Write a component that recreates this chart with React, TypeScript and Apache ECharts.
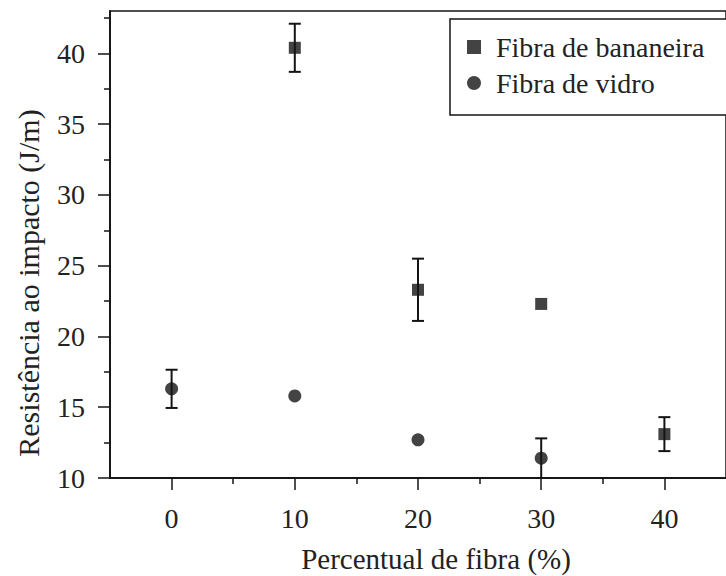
import React, { useEffect, useRef } from "react";
import * as echarts from "echarts";

const seriesNames = ["Fibra de bananeira", "Fibra de vidro"];

const xMajorTicks = [0, 10, 20, 30, 40];
const xMinorTicks = [5, 15, 25, 35];
const yMajorTicks = [10, 15, 20, 25, 30, 35, 40];
const yMinorTicks = [12.5, 17.5, 22.5, 27.5, 32.5, 37.5, 42.5];

const bananaX = [10, 20, 30, 40];
const bananaY = [40.4, 23.3, 22.3, 13.1];
const bananaErr = [1.7, 2.2, 0, 1.2];

const vidroX = [0, 10, 20, 30];
const vidroY = [16.3, 15.8, 12.7, 11.4];
const vidroErr = [1.35, 0, 0, 1.4];

const xTitle = "Percentual de fibra (%)";
const yTitle = "Resistência ao impacto (J/m)";

const FONT = "'Liberation Serif', 'DejaVu Serif', serif";
const INK = "#141414";

function errorSeries(xs: number[], ys: number[], es: number[]) {
  return {
    type: "custom",
    silent: true,
    z: 3,
    encode: { x: 0, y: 1 },
    data: xs.map((x, i) => [x, ys[i], es[i]]),
    renderItem: (_params: any, api: any) => {
      const x = api.value(0);
      const y = api.value(1);
      const e = api.value(2);
      if (!e) return { type: "group", children: [] };
      const top = api.coord([x, y + e]);
      const bot = api.coord([x, y - e]);
      const cap = 6;
      const style = { stroke: INK, lineWidth: 2 };
      return {
        type: "group",
        children: [
          { type: "line", shape: { x1: top[0], y1: top[1], x2: bot[0], y2: bot[1] }, style },
          { type: "line", shape: { x1: top[0] - cap, y1: top[1], x2: top[0] + cap, y2: top[1] }, style },
          { type: "line", shape: { x1: bot[0] - cap, y1: bot[1], x2: bot[0] + cap, y2: bot[1] }, style },
        ],
      };
    },
  };
}

export default function App() {
  const ref = useRef<HTMLDivElement>(null);
  useEffect(() => {
    if (!ref.current) return;
    const chart = echarts.init(ref.current, undefined, { renderer: "svg" });
    const axisLineStyle = { color: INK, width: 1.5 };
    const option: any = {
      animation: false,
      backgroundColor: "#ffffff",
      grid: {
        left: 110,
        top: 11,
        right: -11,
        bottom: 98,
        show: true,
        borderColor: INK,
        borderWidth: 1.5,
        backgroundColor: "transparent",
      },
      xAxis: [
        {
          type: "value",
          position: "bottom",
          min: -5,
          max: 45,
          axisLine: { show: true, onZero: false, lineStyle: axisLineStyle },
          axisTick: { show: true, inside: false, length: 12, customValues: xMajorTicks, lineStyle: axisLineStyle },
          axisLabel: {
            show: true,
            customValues: xMajorTicks,
            margin: 26,
            fontSize: 28,
            fontFamily: FONT,
            color: "#222",
          },
          splitLine: { show: false },
        },
        {
          type: "value",
          position: "bottom",
          min: -5,
          max: 45,
          axisLine: { show: true, onZero: false, lineStyle: axisLineStyle },
          axisTick: { show: true, inside: false, length: 6, customValues: xMinorTicks, lineStyle: axisLineStyle },
          axisLabel: { show: false },
          splitLine: { show: false },
        },
      ],
      yAxis: [
        {
          type: "value",
          position: "left",
          min: 10,
          max: 43,
          axisLine: { show: true, onZero: false, lineStyle: axisLineStyle },
          axisTick: { show: true, inside: false, length: 12, customValues: yMajorTicks, lineStyle: axisLineStyle },
          axisLabel: {
            show: true,
            customValues: yMajorTicks,
            margin: 25,
            fontSize: 28,
            fontFamily: FONT,
            color: "#222",
          },
          splitLine: { show: false },
        },
        {
          type: "value",
          position: "left",
          min: 10,
          max: 43,
          axisLine: { show: true, onZero: false, lineStyle: axisLineStyle },
          axisTick: { show: true, inside: false, length: 6, customValues: yMinorTicks, lineStyle: axisLineStyle },
          axisLabel: { show: false },
          splitLine: { show: false },
        },
      ],
      legend: {
        orient: "vertical",
        left: 450,
        top: 19,
        selectedMode: false,
        data: [
          { name: seriesNames[0], icon: "rect" },
          { name: seriesNames[1], icon: "circle" },
        ],
        itemWidth: 14,
        itemHeight: 14,
        itemGap: 8,
        padding: [14, 40, 18, 17],
        borderColor: INK,
        borderWidth: 1.5,
        backgroundColor: "#fff",
        textStyle: { fontFamily: FONT, fontSize: 28, color: "#222", padding: [0, 0, 0, 10] },
      },
      graphic: [
        {
          type: "text",
          x: 436,
          y: 559,
          style: {
            text: xTitle,
            font: `29px ${FONT}`,
            fill: "#222",
            textAlign: "center",
            textVerticalAlign: "middle",
          },
        },
        {
          type: "text",
          x: 28,
          y: 283,
          rotation: Math.PI / 2,
          style: {
            text: yTitle,
            font: `30px ${FONT}`,
            fill: "#222",
            textAlign: "center",
            textVerticalAlign: "middle",
          },
        },
      ],
      series: [
        {
          name: seriesNames[0],
          type: "scatter",
          symbol: "rect",
          symbolSize: 12,
          itemStyle: { color: INK },
          z: 4,
          data: bananaX.map((x, i) => [x, bananaY[i]]),
        },
        {
          name: seriesNames[1],
          type: "scatter",
          symbol: "circle",
          symbolSize: 13,
          itemStyle: { color: INK },
          z: 4,
          data: vidroX.map((x, i) => [x, vidroY[i]]),
        },
        errorSeries(bananaX, bananaY, bananaErr),
        errorSeries(vidroX, vidroY, vidroErr),
      ],
    };
    chart.setOption(option);
    return () => chart.dispose();
  }, []);
  return (
    <div
      ref={ref}
      style={{ position: "fixed", left: 0, top: 0, width: 726, height: 576, background: "#fff" }}
    />
  );
}
